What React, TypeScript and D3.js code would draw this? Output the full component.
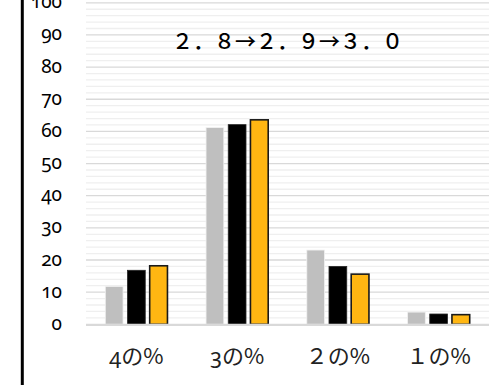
import React from "react";
import * as d3 from "d3";

const categories = ["4の%", "3の%", "２の%", "１の%"];
const series = ["s1", "s2", "s3"];
const values1 = [11.8, 61.2, 23.1, 3.8];
const values2 = [16.8, 62.1, 18.0, 3.2];
const values3 = [18.2, 63.6, 15.6, 3.0];
const yTicks = [0, 10, 20, 30, 40, 50, 60, 70, 80, 90, 100];
const minorTicks = d3.range(0, 101, 2);
const title = "２．８→２．９→３．０";

const W = 494;
const H = 385;
const left = 86;
const right = 489;
const y0 = 324.3;
const y100 = 2.8;
const colors = ["#bfbfbf", "#000000", "#ffb612"];
const strokes = ["#f2f2f2", "#262626", "#1a1a1a"];
const strokeW = [0.8, 0.8, 1.6];

export default function App() {
  const y = d3.scaleLinear().domain([0, 100]).range([y0, y100]);
  const x0 = d3.scaleBand().domain(categories).range([left, right]).paddingInner(0.383).paddingOuter(0.1915);
  const x1 = d3.scaleBand().domain(series).range([0, x0.bandwidth()]).paddingInner(0.2).paddingOuter(0);
  const data = [values1, values2, values3];

  const renderLabel = (c: string) => {
    const first = c[0];
    const rest = c.slice(1);
    if (/[0-9]/.test(first)) {
      return (
        <>
          <tspan fontFamily="'Noto Sans'" style={{ fontVariantNumeric: "oldstyle-nums" }}>{first}</tspan>
          <tspan>{rest}</tspan>
        </>
      );
    }
    return c;
  };

  return (
    <svg width={W} height={H} style={{ position: "absolute", left: 0, top: 0, background: "#fff" }}>
      <rect x={0} y={0} width={W} height={H} fill="#fff" />
      {minorTicks.filter((t) => t % 10 !== 0).map((t) => (
        <line key={"m" + t} x1={left} x2={right} y1={y(t)} y2={y(t)} stroke="#efefef" strokeWidth={1.3} />
      ))}
      {yTicks.filter((t) => t !== 0).map((t) => (
        <line key={"g" + t} x1={left} x2={right} y1={y(t)} y2={y(t)} stroke="#d9d9d9" strokeWidth={1.3} />
      ))}
      {categories.map((c, i) => (
        <g key={c} transform={`translate(${x0(c)},0)`}>
          {series.map((s, j) => {
            const v = data[j][i];
            return (
              <rect
                key={s}
                x={x1(s)}
                y={y(v)}
                width={x1.bandwidth()}
                height={y0 - y(v)}
                fill={colors[j]}
                stroke={strokes[j]}
                strokeWidth={strokeW[j]}
              />
            );
          })}
        </g>
      ))}
      <line x1={left} x2={right} y1={y(0) + 0.5} y2={y(0) + 0.5} stroke="#d9d9d9" strokeWidth={2.2} />
      {yTicks.map((t) => (
        <text
          key={"t" + t}
          x={62}
          y={y(t) + 5.5}
          textAnchor="end"
          fontFamily="'Noto Sans'"
          fontSize={19}
          fill="#000"
          style={{ fontVariantNumeric: "oldstyle-nums" }}
        >
          {t}
        </text>
      ))}
      {categories.map((c) => (
        <text
          key={"x" + c}
          x={(x0(c) as number) + x0.bandwidth() / 2}
          y={364}
          textAnchor="middle"
          fontFamily="'Noto Sans CJK JP'"
          fontSize={22}
          fill="#222"
        >
          {renderLabel(c)}
        </text>
      ))}
      <text
        x={(left + right) / 2}
        y={49}
        textAnchor="middle"
        fontFamily="'Noto Sans CJK JP'"
        fontSize={21}
        fontWeight={500}
        fill="#000"
      >
        {title}
      </text>
      <line x1={22.3} x2={22.3} y1={0} y2={H} stroke="#000" strokeWidth={3} />
    </svg>
  );
}
